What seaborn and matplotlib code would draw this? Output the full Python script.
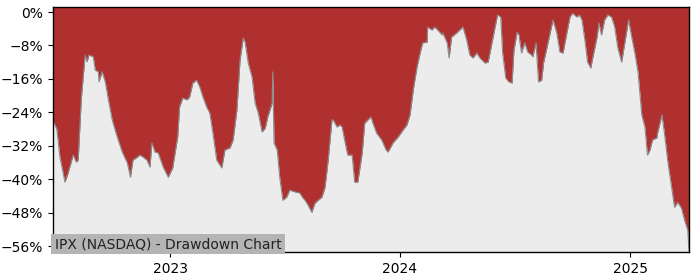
import matplotlib
matplotlib.use("Agg")
import matplotlib.pyplot as plt
import matplotlib.dates as mdates
from matplotlib.ticker import PercentFormatter, MultipleLocator
import seaborn as sns
import pandas as pd

dates = [
    "2022-06-29", "2022-07-01", "2022-07-05", "2022-07-10", "2022-07-18", "2022-07-23",
    "2022-07-31", "2022-08-05", "2022-08-08", "2022-08-13", "2022-08-16", "2022-08-19",
    "2022-08-22", "2022-08-25", "2022-09-01", "2022-09-04", "2022-09-09", "2022-09-10",
    "2022-09-15", "2022-09-20", "2022-09-25", "2022-10-01", "2022-10-09", "2022-10-17",
    "2022-10-25", "2022-10-30", "2022-11-03", "2022-11-10", "2022-11-14", "2022-11-19",
    "2022-11-25", "2022-11-30", "2022-12-03", "2022-12-08", "2022-12-13", "2022-12-21",
    "2022-12-29", "2023-01-05", "2023-01-13", "2023-01-16", "2023-01-21", "2023-01-28",
    "2023-02-01", "2023-02-06", "2023-02-12", "2023-02-17", "2023-02-22", "2023-02-28",
    "2023-03-05", "2023-03-10", "2023-03-16", "2023-03-24", "2023-03-29", "2023-04-06",
    "2023-04-11", "2023-04-17", "2023-04-22", "2023-04-27", "2023-04-30", "2023-05-05",
    "2023-05-11", "2023-05-16", "2023-05-21", "2023-05-27", "2023-06-01", "2023-06-05",
    "2023-06-12", "2023-06-13", "2023-06-15", "2023-06-20", "2023-06-24", "2023-06-29",
    "2023-07-05", "2023-07-10", "2023-07-18", "2023-07-26", "2023-07-31", "2023-08-03",
    "2023-08-08", "2023-08-14", "2023-08-19", "2023-08-24", "2023-08-30", "2023-09-04",
    "2023-09-09", "2023-09-15", "2023-09-17", "2023-09-23", "2023-09-28", "2023-10-01",
    "2023-10-06", "2023-10-10", "2023-10-17", "2023-10-21", "2023-10-26", "2023-11-02",
    "2023-11-06", "2023-11-11", "2023-11-16", "2023-11-19", "2023-11-25", "2023-12-03",
    "2023-12-10", "2023-12-13", "2023-12-21", "2023-12-29", "2024-01-06", "2024-01-12",
    "2024-01-17", "2024-01-22", "2024-01-28", "2024-02-02", "2024-02-06", "2024-02-13",
    "2024-02-14", "2024-02-21", "2024-02-25", "2024-03-01", "2024-03-08", "2024-03-09",
    "2024-03-16", "2024-03-19", "2024-03-23", "2024-03-31", "2024-04-05", "2024-04-10",
    "2024-04-16", "2024-04-21", "2024-04-26", "2024-05-02", "2024-05-07", "2024-05-15",
    "2024-05-20", "2024-05-26", "2024-05-31", "2024-06-04", "2024-06-09", "2024-06-12",
    "2024-06-17", "2024-06-22", "2024-06-27", "2024-06-30", "2024-07-05", "2024-07-08",
    "2024-07-12", "2024-07-17", "2024-07-22", "2024-07-28", "2024-07-30", "2024-08-04",
    "2024-08-08", "2024-08-13", "2024-08-16", "2024-08-23", "2024-08-31", "2024-09-06",
    "2024-09-11", "2024-09-16", "2024-09-22", "2024-09-27", "2024-10-01", "2024-10-08",
    "2024-10-12", "2024-10-16", "2024-10-20", "2024-10-25", "2024-10-30", "2024-11-02",
    "2024-11-09", "2024-11-12", "2024-11-16", "2024-11-21", "2024-11-26", "2024-12-02",
    "2024-12-07", "2024-12-12", "2024-12-18", "2024-12-23", "2024-12-29", "2025-01-03",
    "2025-01-08", "2025-01-13", "2025-01-19", "2025-01-24", "2025-01-28", "2025-02-01",
    "2025-02-05", "2025-02-12", "2025-02-13", "2025-02-20", "2025-02-24", "2025-03-01",
    "2025-03-08", "2025-03-12", "2025-03-17", "2025-03-23", "2025-03-28", "2025-04-02",
    "2025-04-04",
]

drawdown = [
    -26.0, -26.6, -28.0, -34.7, -40.7, -38.5,
    -34.2, -35.9, -35.4, -20.6, -15.5, -10.3,
    -11.9, -10.3, -10.7, -13.9, -14.3, -16.7,
    -14.3, -16.7, -21.0, -25.8, -29.9, -33.5,
    -36.1, -39.5, -35.4, -34.7, -34.2, -34.7,
    -35.4, -37.1, -31.3, -33.5, -33.7, -37.1,
    -39.5, -37.3, -29.9, -22.7, -20.6, -21.0,
    -20.3, -17.0, -16.3, -17.9, -20.3, -22.7,
    -24.2, -29.0, -35.4, -37.3, -33.0, -32.5,
    -30.6, -23.5, -11.5, -6.2, -7.2, -12.2,
    -15.5, -21.8, -24.2, -28.7, -27.8, -25.1,
    -21.8, -14.3, -31.3, -33.0, -39.5, -45.0,
    -44.3, -42.6, -43.0, -43.3, -44.5, -45.0,
    -46.2, -47.9, -45.7, -45.0, -44.3, -41.9,
    -35.4, -25.8, -25.8, -27.5, -27.0, -27.5,
    -31.3, -34.2, -34.2, -40.7, -40.7, -33.7,
    -26.6, -25.8, -25.1, -26.6, -29.0, -30.6,
    -33.0, -33.5, -31.3, -29.9, -28.2, -27.0,
    -24.6, -18.7, -13.2, -9.8, -7.4, -7.2,
    -3.6, -4.3, -3.6, -4.3, -5.5, -5.0,
    -7.4, -11.0, -6.0, -5.0, -4.3, -3.6,
    -6.7, -10.3, -11.0, -9.8, -11.0, -12.2,
    -12.0, -7.4, -3.6, -0.7, -1.2, -9.8,
    -15.8, -16.7, -17.0, -9.1, -4.8, -5.5,
    -9.8, -7.4, -9.6, -10.3, -10.7, -7.4,
    -16.7, -16.3, -12.2, -7.4, -1.9, -5.0,
    -9.6, -9.8, -5.0, -1.2, -0.3, -1.2,
    -0.7, -1.9, -6.0, -12.0, -13.4, -11.0,
    -6.0, -2.6, -5.5, -1.9, -0.7, -1.2,
    -3.6, -8.6, -12.0, -7.4, -1.9, -6.0,
    -9.8, -14.3, -24.6, -27.5, -34.2, -33.0,
    -30.6, -30.1, -29.0, -24.6, -29.0, -35.4,
    -42.6, -46.7, -45.5, -46.9, -49.8, -52.2,
    -57.0,
]

y_ticks = [0, -8, -16, -24, -32, -40, -48, -56]
title_text = "IPX (NASDAQ) - Drawdown Chart"

df = pd.DataFrame({"date": pd.to_datetime(dates), "dd": drawdown})

sns.set_style("white")
plt.rcParams["font.family"] = ["DejaVu Sans"]

fig = plt.figure(figsize=(7, 2.8), dpi=100)
ax = fig.add_axes([53 / 700, 28 / 280, 636 / 700, 245 / 280])
ax.set_facecolor("#ececec")

y_top, y_bot = 1.2, -57.4
ax.fill_between(df["date"], df["dd"], y_top, color="#b03030", linewidth=0, zorder=1)
sns.lineplot(data=df, x="date", y="dd", ax=ax, color="#8c8c8c", linewidth=0.8, zorder=2)

ax.set_xlim(df["date"].iloc[0], df["date"].iloc[-1])
ax.set_ylim(y_bot, y_top)
ax.set_yticks(y_ticks)
ax.yaxis.set_major_formatter(PercentFormatter(decimals=0))
ax.xaxis.set_major_locator(mdates.YearLocator())
ax.xaxis.set_major_formatter(mdates.DateFormatter("%Y"))
ax.set_xlabel("")
ax.set_ylabel("")
ax.tick_params(axis="both", which="major", length=3.5, width=0.8, colors="black",
               labelsize=10, bottom=True, left=True)
for s in ax.spines.values():
    s.set_color("black")
    s.set_linewidth(1.0)

ax.text(0.003, 0.004, title_text, transform=ax.transAxes, fontsize=10,
        color="#222222", ha="left", va="bottom", zorder=5,
        bbox=dict(facecolor="#b4b4b4", edgecolor="none", pad=2.5))

fig.savefig("out.png", dpi=100)
